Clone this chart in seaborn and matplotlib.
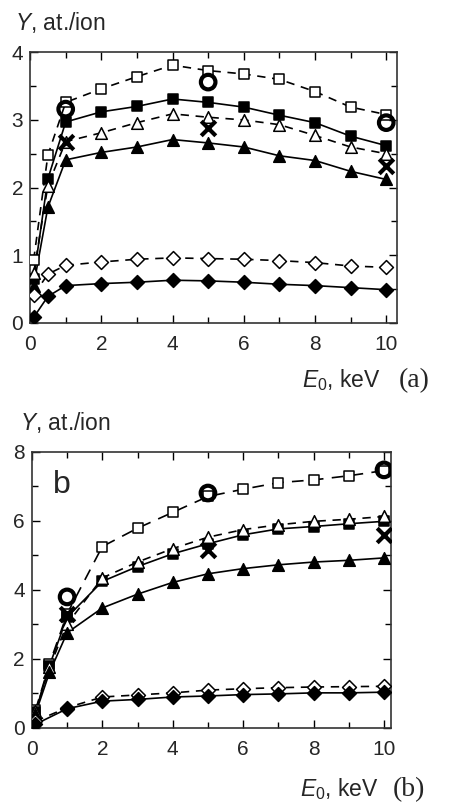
import numpy as np
import matplotlib
matplotlib.use("Agg")
import matplotlib.pyplot as plt
import seaborn as sns

# ---- panel (a) data ----
e_a = [0.1, 0.5, 1, 2, 3, 4, 5, 6, 7, 8, 9, 10]
sq_open_a = [0.93, 2.48, 3.26, 3.46, 3.64, 3.81, 3.73, 3.68, 3.60, 3.42, 3.19, 3.08]
sq_fill_a = [0.65, 2.13, 2.97, 3.12, 3.20, 3.31, 3.26, 3.19, 3.07, 2.96, 2.76, 2.62]
tri_open_a = [0.73, 2.03, 2.68, 2.81, 2.96, 3.09, 3.04, 3.00, 2.93, 2.77, 2.60, 2.50]
tri_fill_a = [0.55, 1.71, 2.41, 2.52, 2.60, 2.71, 2.66, 2.60, 2.47, 2.40, 2.24, 2.12]
dia_open_a = [0.41, 0.72, 0.85, 0.90, 0.94, 0.96, 0.95, 0.94, 0.92, 0.89, 0.84, 0.82]
dia_fill_a = [0.08, 0.39, 0.55, 0.58, 0.60, 0.63, 0.62, 0.60, 0.57, 0.55, 0.52, 0.49]
e_pts = [1, 5, 10]
circ_a = [3.16, 3.56, 2.96]
cross_a = [2.68, 2.88, 2.32]

# ---- panel (b) data ----
e_b = [0.1, 0.5, 1, 2, 3, 4, 5, 6, 7, 8, 9, 10]
sq_open_b = [0.50, 1.85, 3.30, 5.25, 5.78, 6.24, 6.70, 6.91, 7.10, 7.18, 7.30, 7.45]
sq_fill_b = [0.45, 1.80, 3.20, 4.24, 4.67, 5.04, 5.33, 5.59, 5.76, 5.83, 5.91, 5.98]
tri_open_b = [0.48, 1.75, 3.00, 4.34, 4.80, 5.19, 5.52, 5.74, 5.88, 5.98, 6.04, 6.12]
tri_fill_b = [0.40, 1.60, 2.75, 3.47, 3.87, 4.21, 4.46, 4.61, 4.72, 4.80, 4.85, 4.92]
e_b_dia = [0.1, 1, 2, 3, 4, 5, 6, 7, 8, 9, 10]
dia_open_b = [0.19, 0.58, 0.89, 0.95, 1.01, 1.09, 1.13, 1.16, 1.18, 1.19, 1.20]
dia_fill_b = [0.10, 0.55, 0.77, 0.82, 0.89, 0.92, 0.96, 0.98, 1.01, 1.01, 1.03]
circ_b = [3.79, 6.80, 7.47]
cross_b = [3.30, 5.14, 5.57]

sns.set_style("ticks")
plt.rcParams['font.family'] = ['Liberation Sans', 'DejaVu Sans']
plt.rcParams['mathtext.fontset'] = 'custom'
plt.rcParams['mathtext.it'] = 'Liberation Sans:italic'
plt.rcParams['mathtext.rm'] = 'Liberation Sans'

fig = plt.figure(figsize=(4.49, 8.05), dpi=100)
ax1 = fig.add_axes([0.067, 0.599, 0.817, 0.336])
ax2 = fig.add_axes([0.071, 0.096, 0.800, 0.343])


def series(ax, x, y, marker, filled, dashed, ms, dash=(5, 4)):
    sns.lineplot(x=x, y=y, ax=ax, color='k', lw=1.2,
                 linestyle=(0, dash) if dashed else '-', estimator=None)
    sns.scatterplot(x=x, y=y, ax=ax, marker=marker, s=ms,
                    facecolor='k' if filled else 'white', edgecolor='k',
                    linewidth=1.1, zorder=3)


def panel(ax, e, sqo, sqf, tro, trf, edia, dio, dif, circ, cross, sqdash):
    series(ax, e, sqo, 's', False, True, 55, sqdash)
    series(ax, e, sqf, 's', True, False, 55)
    series(ax, e, tro, '^', False, True, 70)
    series(ax, e, trf, '^', True, False, 70)
    series(ax, edia, dio, 'D', False, True, 50)
    series(ax, edia, dif, 'D', True, False, 50)
    sns.scatterplot(x=e_pts, y=circ, ax=ax, marker='o', s=110,
                    facecolor='none', edgecolor='k', linewidth=3, zorder=4)
    sns.scatterplot(x=e_pts, y=cross, ax=ax, marker='x', s=110,
                    color='k', linewidth=3, zorder=4)


panel(ax1, e_a, sq_open_a, sq_fill_a, tri_open_a, tri_fill_a,
      e_a, dia_open_a, dia_fill_a, circ_a, cross_a, (5, 4))
panel(ax2, e_b, sq_open_b, sq_fill_b, tri_open_b, tri_fill_b,
      e_b_dia, dia_open_b, dia_fill_b, circ_b, cross_b, (7, 5))

ax1.set_xlim(0, 10.3)
ax1.set_ylim(0, 4)
ax1.set_xticks([0, 2, 4, 6, 8, 10])
ax1.set_xticks(np.arange(1, 10.5, 2), minor=True)
ax1.set_yticks([0, 1, 2, 3, 4])
ax1.set_yticks(np.arange(0.5, 4, 1), minor=True)

ax2.set_xlim(0, 10.2)
ax2.set_ylim(0, 8)
ax2.set_xticks([0, 2, 4, 6, 8, 10])
ax2.set_xticks(np.arange(1, 10.5, 2), minor=True)
ax2.set_yticks([0, 2, 4, 6, 8])
ax2.set_yticks(np.arange(1, 8, 2), minor=True)

for ax in (ax1, ax2):
    ax.set_xlabel('')
    ax.set_ylabel('')
    ax.tick_params(which='both', direction='in', top=True, right=True,
                   width=1, color='k')
    ax.tick_params(which='major', length=6, labelsize=15, pad=5)
    ax.tick_params(axis='x', which='major', pad=9)
    ax.tick_params(which='minor', length=4)
    for s in ax.spines.values():
        s.set_linewidth(1.2)
        s.set_color('#333333')

ax2.text(0.6, 6.8, 'b', fontsize=23)

fig.text(0.033, 0.963, '$Y$, at./ion', fontsize=16.5, va='baseline')
fig.text(0.045, 0.466, '$Y$, at./ion', fontsize=16.5, va='baseline')
fig.text(0.672, 0.519, '$E_0$, keV', fontsize=16.5, va='baseline')
fig.text(0.888, 0.519, '(a)', fontsize=20, family='Liberation Serif',
         va='baseline')
fig.text(0.668, 0.011, '$E_0$, keV', fontsize=16.5, va='baseline')
fig.text(0.875, 0.011, '(b)', fontsize=20, family='Liberation Serif',
         va='baseline')

fig.savefig('out.png', dpi=100)
